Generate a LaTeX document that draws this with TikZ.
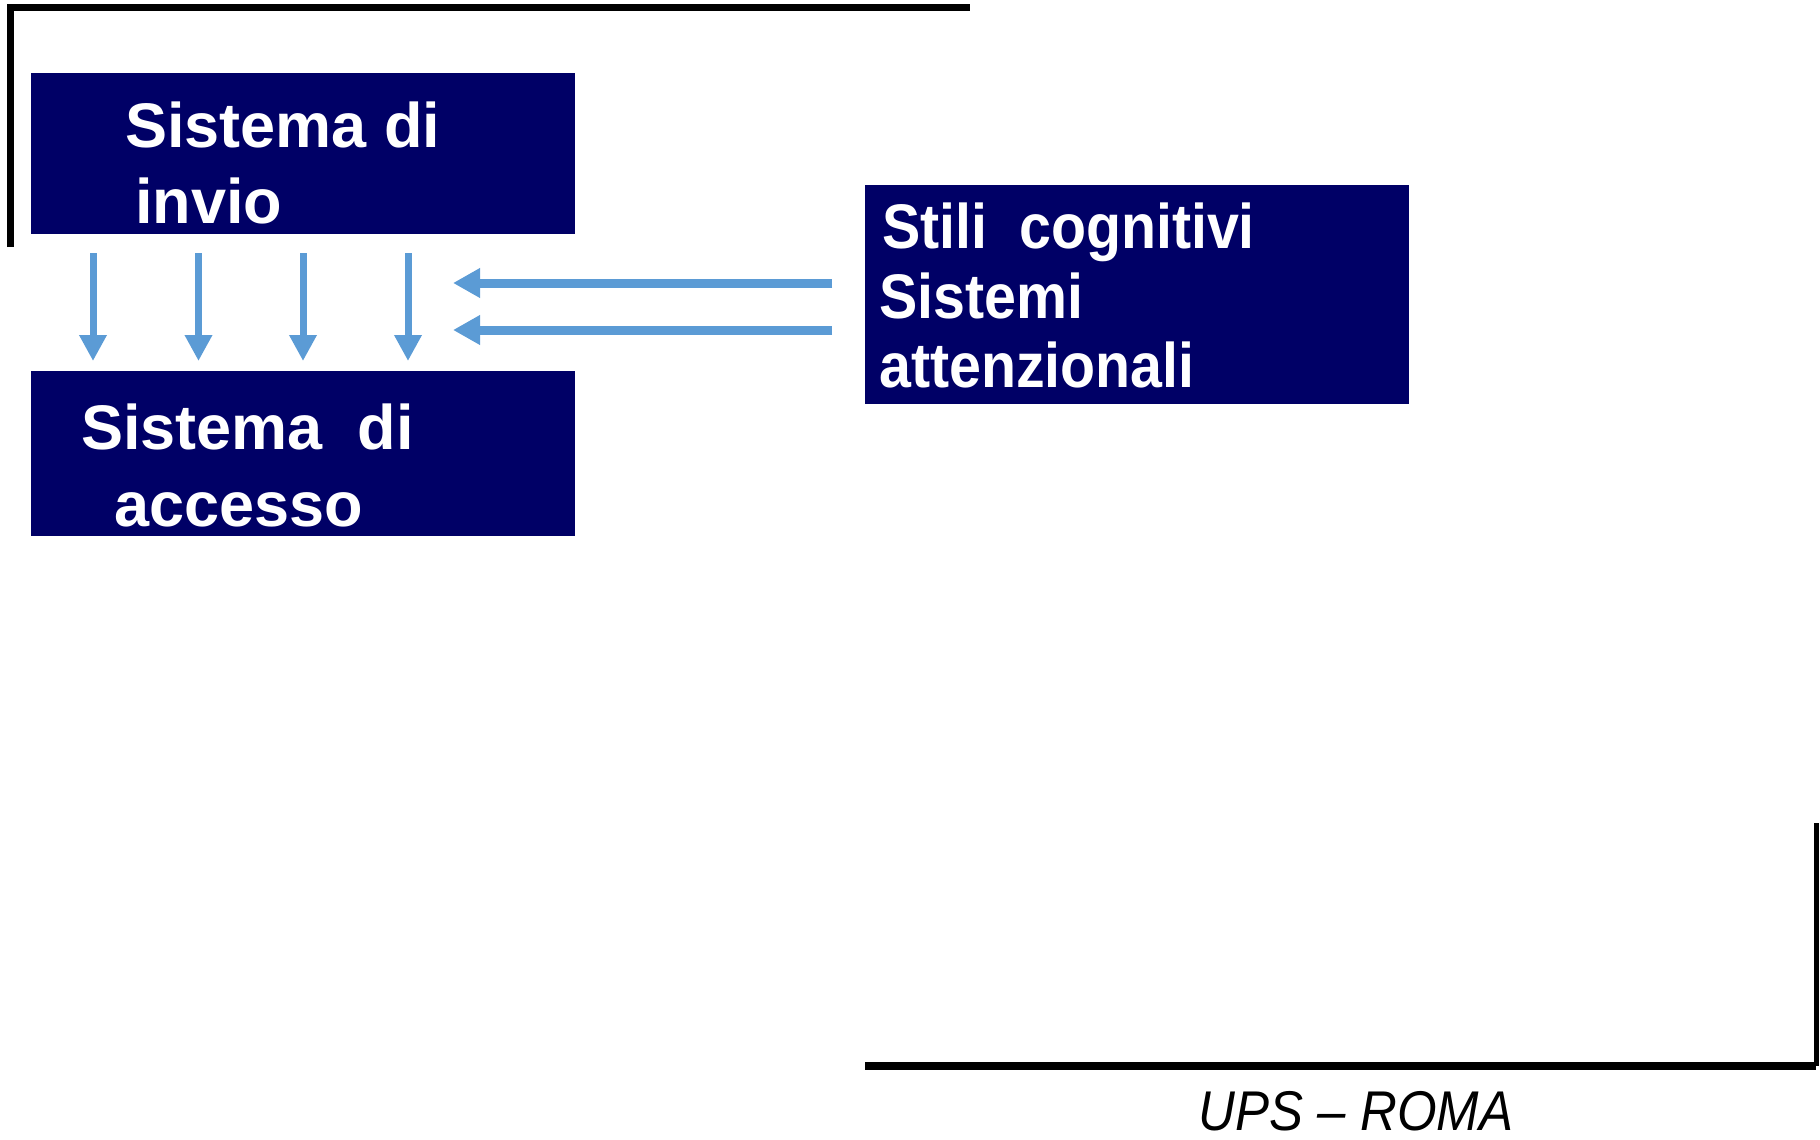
\documentclass[tikz,border=0pt]{standalone}
\usepackage{fontspec}
\setmainfont{Liberation Sans}
\newfontfamily\narrowfont[FakeStretch=0.91]{Liberation Sans}
\usetikzlibrary{arrows.meta}
\definecolor{navyfill}{RGB}{0,0,102}
\definecolor{arrowblue}{RGB}{91,155,213}
\tikzset{
  box/.style={fill=navyfill, draw=none, anchor=north west, inner sep=0pt},
  boxtext/.style={text=white, anchor=base west, inner sep=0pt, font=\fontsize{63}{63}\selectfont\bfseries},
  boxtextn/.style={text=white, anchor=base west, inner sep=0pt, font=\narrowfont\fontsize{63}{63}\selectfont\bfseries},
  downarrow/.style={draw=arrowblue, line width=7pt, -{Triangle[length=26pt,width=26pt]}},
  leftarrow/.style={draw=arrowblue, line width=9pt, -{Triangle[length=27pt,width=28pt]}},
  frameline/.style={draw=black, line width=7pt}
}
\begin{document}
\begin{tikzpicture}[x=1pt,y=-1pt]
\useasboundingbox (0,0) rectangle (1820,1140);
% frame lines
\coordinate (tl) at (10.5,8);
\coordinate (tr) at (970,8);
\coordinate (lb) at (10.5,247);
\draw[frameline] (lb) -- (tl) -- (tr);
\coordinate (bl) at (865,1066);
\coordinate (br) at (1816,1066);
\coordinate (rt) at (1816,823);
\draw[frameline, line width=8pt] (bl) -- (br);
\draw[frameline, line width=5pt] (br) -- (rt);
% boxes
\node[box, minimum width=544pt, minimum height=161pt] (invio) at (31,73) {};
\node[box, minimum width=544pt, minimum height=165pt] (accesso) at (31,371) {};
\node[box, minimum width=544pt, minimum height=219pt] (stili) at (865,185) {};
% texts
\node[boxtext] (t1a) at (125,147) {Sistema di};
\node[boxtext] (t1b) at (135,223) {invio};
\node[boxtext] (t2a) at (81,449) {Sistema\ \ di};
\node[boxtext] (t2b) at (114,526) {accesso};
\node[boxtextn] (t3a) at (882,248) {Stili\ \ cognitivi};
\node[boxtextn] (t3b) at (879,318) {Sistemi};
\node[boxtextn] (t3c) at (879,387) {attenzionali};
% down arrows
\foreach \i/\x in {1/93,2/198.5,3/303,4/408}{
  \coordinate (d\i s) at (\x,253);
  \coordinate (d\i e) at (\x,361);
  \draw[downarrow] (d\i s) -- (d\i e);
}
% left arrows
\coordinate (l1s) at (832,283);
\coordinate (l1e) at (453,283);
\coordinate (l2s) at (832,330);
\coordinate (l2e) at (453,330);
\draw[leftarrow] (l1s) -- (l1e);
\draw[leftarrow] (l2s) -- (l2e);
% footer
\node[anchor=base, inner sep=0pt, text depth=0pt, font=\narrowfont\itshape\fontsize{56}{56}\selectfont] (footer) at (1356,1130) {UPS – ROMA};
\end{tikzpicture}
\end{document}
